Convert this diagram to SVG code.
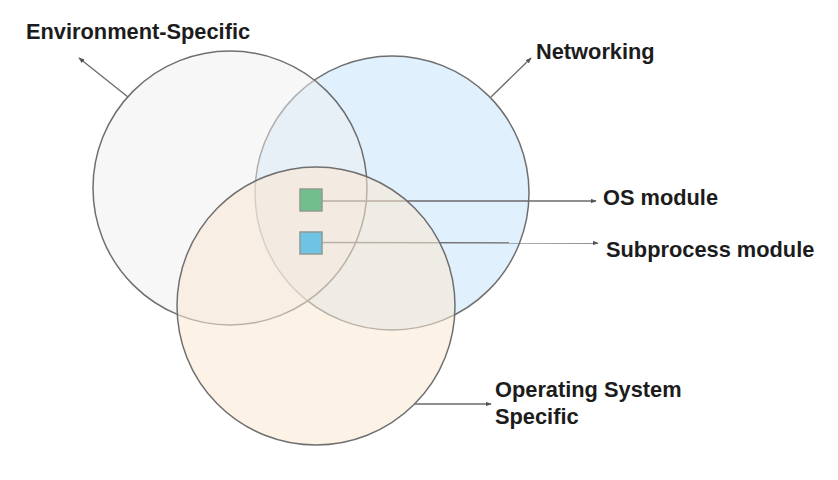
<svg xmlns="http://www.w3.org/2000/svg" width="838" height="480" viewBox="0 0 838 480">
<style>
.ring{stroke:#6f6f6f;stroke-width:1.5}
.lbl{font-family:"Liberation Sans",Arial,sans-serif;font-weight:bold;font-size:21.8px;fill:#1c1c1c}
.con{stroke:#6a6a6a;stroke-width:1.3;fill:none;marker-end:url(#ah)}
.sq{stroke:#8f9a94;stroke-width:1.5}
</style>
<defs>
<marker id="ah" viewBox="0 0 8 6" refX="7" refY="3" markerWidth="6" markerHeight="4.5" orient="auto" markerUnits="userSpaceOnUse">
<path d="M0,0 L8,3 L0,6 z" fill="#555"/>
</marker>
</defs>
<rect width="838" height="480" fill="#ffffff"/>
<g id="networking">
<circle class="ring" cx="392" cy="193" r="137" fill="#e0f0fd"/>
</g>
<g id="environment-specific">
<circle class="ring" cx="230" cy="188" r="137" fill="#efeff1" fill-opacity="0.5"/>
</g>
<g id="connectors">
<line class="con" x1="128" y1="97" x2="79" y2="58"/>
<line class="con" x1="491" y1="97" x2="531" y2="58"/>
<line class="con" x1="322" y1="201" x2="596" y2="201"/>
<line class="con" x1="322" y1="242.5" x2="598" y2="243"/>
<line class="con" x1="415" y1="404" x2="491" y2="404"/>
</g>
<g id="os-specific">
<circle class="ring" cx="316" cy="306" r="139" fill="#fbe7d2" fill-opacity="0.55"/>
</g>
<g id="os-module-box">
<rect class="sq" x="300" y="189" width="22" height="22" fill="#72bf8b"/>
</g>
<g id="subprocess-module-box">
<rect class="sq" x="300" y="232" width="22" height="22" fill="#6fc4e6"/>
</g>
<g id="labels">
<text class="lbl" x="26" y="39">Environment-Specific</text>
<text class="lbl" x="536" y="59">Networking</text>
<text class="lbl" x="603" y="205">OS module</text>
<text class="lbl" x="606" y="257">Subprocess module</text>
<text class="lbl" x="495" y="397">Operating System</text>
<text class="lbl" x="495" y="424">Specific</text>
</g>
</svg>
